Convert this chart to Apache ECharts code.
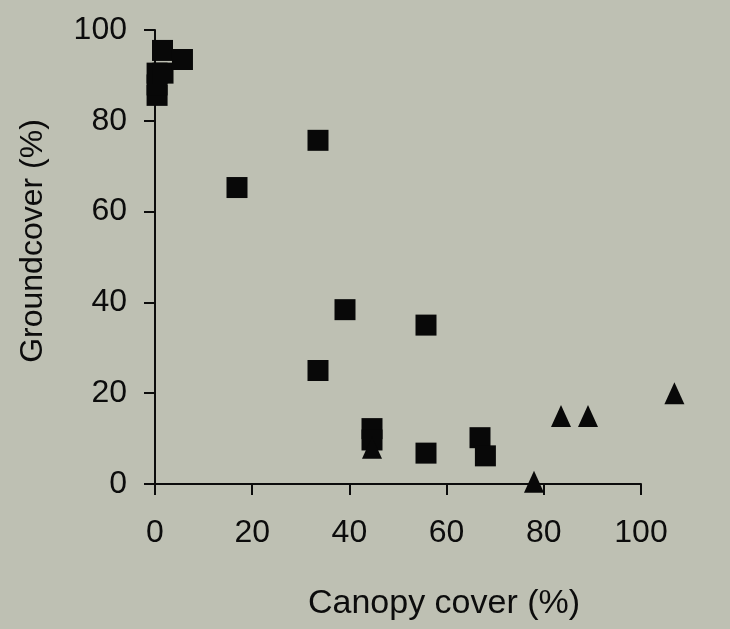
<!DOCTYPE html>
<html>
<head>
<meta charset="utf-8">
<script src="https://cdn.jsdelivr.net/npm/echarts@6/dist/echarts.min.js"></script>
<style>
  html, body {margin: 0; padding: 0; background: #bec0b3;}
  #chart {width: 730px; height: 629px;}
</style>
</head>
<body>
<div id="chart"></div>
<script>
// canopy cover (%) vs groundcover (%)
const squareX = [0.2, 0.2, 0.2, 1.3, 1.2, 4.9, 15, 30, 30, 35, 50, 40, 40, 50, 60, 61];
const squareY = [85.6, 87.9, 90.5, 90.5, 95.5, 93.5, 65.3, 75.7, 25, 38.4, 35, 12.2, 9.7, 6.8, 10.2, 6.2];
const triangleX = [40, 70, 75, 80, 96];
const triangleY = [8, 0.5, 15, 15, 20];

const xTicks = [0, 20, 40, 60, 80, 100];
const yTicks = [0, 20, 40, 60, 80, 100];

const ink = '#0c0c0c';
const font = 'Liberation Sans, Arial, sans-serif';

function pairs(xs, ys) {
  return xs.map((x, i) => [x, ys[i]]);
}

const myChart = echarts.init(document.getElementById('chart'), null, {renderer: 'canvas'});

const axisCommon = {
  type: 'value',
  min: 0,
  max: 100,
  interval: 20,
  splitLine: {show: false},
  axisLine: {show: true, lineStyle: {color: ink, width: 2}},
  axisTick: {show: true, inside: false, length: 11, lineStyle: {color: ink, width: 2}},
};

const option = {
  backgroundColor: '#bec0b3',
  animation: false,
  grid: [
    // visible frame
    {left: 155, right: 89, top: 30, bottom: 145},
    // frame the marks are plotted in
    {left: 156, right: 34, top: 30, bottom: 145},
  ],
  xAxis: [{
    ...axisCommon,
    gridIndex: 0,
    name: 'Canopy cover (%)',
    nameLocation: 'middle',
    nameGap: 103,
    nameTextStyle: {color: ink, fontSize: 34, fontFamily: font, padding: [0, 0, 0, 92]},
    axisLabel: {
      color: ink, fontSize: 32, fontFamily: font, margin: 33,
      formatter: v => xTicks.includes(v) ? String(v) : '',
    },
  }, {
    type: 'value', gridIndex: 1, min: 0, max: 100, show: false,
  }],
  yAxis: [{
    ...axisCommon,
    gridIndex: 0,
    name: 'Groundcover (%)',
    nameLocation: 'middle',
    nameGap: 106,
    nameTextStyle: {color: ink, fontSize: 32, fontFamily: font, padding: [0, 0, 0, 32]},
    axisLabel: {
      color: ink, fontSize: 32, fontFamily: font, margin: 28,
      formatter: v => yTicks.includes(v) ? String(v) : '',
    },
  }, {
    type: 'value', gridIndex: 1, min: 0, max: 100, show: false,
  }],
  series: [{
    name: 'squares',
    type: 'scatter',
    xAxisIndex: 1,
    yAxisIndex: 1,
    symbol: 'rect',
    symbolSize: 21,
    itemStyle: {color: '#080808', opacity: 1},
    data: pairs(squareX, squareY),
  }, {
    name: 'triangles',
    type: 'scatter',
    xAxisIndex: 1,
    yAxisIndex: 1,
    symbol: 'triangle',
    symbolSize: [20, 22],
    itemStyle: {color: '#080808', opacity: 1},
    data: pairs(triangleX, triangleY),
  }],
};

myChart.setOption(option);
</script>
</body>
</html>
